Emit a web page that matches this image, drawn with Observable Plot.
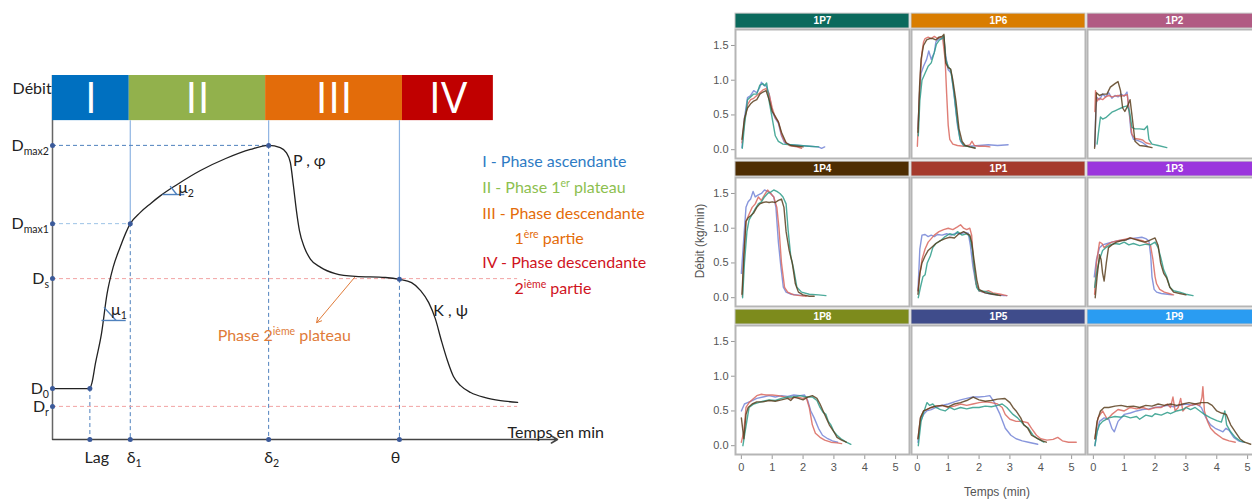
<!DOCTYPE html>
<html>
<head>
<meta charset="utf-8">
<script src="https://cdn.jsdelivr.net/npm/d3@7"></script>
<script src="https://cdn.jsdelivr.net/npm/@observablehq/plot@0.6"></script>
<style>
  html, body { margin: 0; padding: 0; background: #fff; overflow: hidden; width: 1252px; height: 499px; }
  #left { position: absolute; left: 0; top: 0; }
  #right { position: absolute; left: 690px; top: 0; width: 562px; height: 499px; overflow: hidden; }
  .lbl { position: absolute; font-family: "Liberation Sans", Arial, sans-serif; font-size: 12px; color: #555; white-space: nowrap; }
</style>
</head>
<body>
<div id="left"></div>
<div id="right"></div>
<div class="lbl" id="ylab" style="left:700px; top:241px; transform: translate(-50%,-50%) rotate(-90deg);">Débit (kg/min)</div>
<div class="lbl" id="xlab" style="left:997px; top:492px; transform: translate(-50%,-50%);">Temps (min)</div>
<script>
// ---------------- LEFT: schematic diagram (relative units 0-100) ----------------
const phaseNames = ["I", "II", "III", "IV"];
const phaseStart = [0, 15.2, 42.2, 69.3];
const phaseEnd = [15.2, 42.2, 69.3, 87.3];
const phaseColors = ["#0070C0", "#92B14C", "#E36C0A", "#C00000"];

const tLabels = ["Lag", "δ_{1}", "δ_{2}", "θ"];
const tValues = [7.4, 15.4, 42.8, 68.7];
const tLevels = [14.0, 59.3, 80.8, 44.0];

const dLabels = ["D_{max2}", "D_{max1}", "D_{s}", "D_{0}", "D_{r}"];
const dValues = [80.8, 59.3, 44.2, 14.0, 9.1];

const curveT = [0, 7.3, 7.8, 8.5, 9.7, 10.8, 12.0, 13.3, 15.4, 17.4, 19.4, 21.4, 24.4, 29.3, 34.3, 39.2, 42.8,
  45.1, 46.3, 47.1, 47.7, 48.3, 48.9, 49.9, 51.1, 53.1, 56.0, 60.0, 65.9, 68.7,
  71.1, 72.9, 74.5, 75.8, 77.0, 78.2, 79.4, 80.8, 82.8, 85.7, 88.7, 92.1];
const curveD = [14.0, 14.0, 15.5, 20.9, 29.1, 40.0, 47.3, 52.5, 59.3, 62.4, 64.8, 67.0, 69.8, 73.9, 77.2, 79.7, 80.8,
  80.2, 78.8, 76.1, 69.8, 62.9, 57.4, 52.7, 49.5, 47.3, 45.6, 44.8, 44.5, 44.0,
  43.1, 40.9, 37.6, 33.2, 27.2, 21.7, 17.3, 14.8, 12.9, 11.5, 10.7, 10.2];

const legendTexts = ["I - Phase ascendante", "II - Phase 1^{er} plateau", "III - Phase descendante", "1^{ère} partie", "IV - Phase descendante", "2^{ième} partie"];
const legendColors = ["#2E7BC4", "#8DC04F", "#E46C0A", "#E46C0A", "#D0141E", "#D0141E"];

// layout constants
const barBottom = 87.6, barTop = 100, guideEnd = 92.1;
const legendX = [85.1, 85.1, 85.1, 91.5, 85.1, 91.5];
const legendY = [76.4, 69.2, 62.1, 55.2, 48.4, 41.5];

const curve = curveT.map((t, i) => ({t, d: curveD[i]}));
const phases = phaseNames.map((n, i) => ({n, x1: phaseStart[i], x2: phaseEnd[i], c: phaseColors[i]}));
const vSolid = tValues.slice(1).map((t, i) => ({x: t, y1: barBottom, y2: tLevels[i + 1]}));
const vDash = tValues.map((t, i) => ({x: t, y1: tLevels[i], y2: 0}));
const hDash = [
  {y: dValues[0], x2: tValues[2], c: "#4F81BD"},
  {y: dValues[1], x2: tValues[1], c: "#9DC3E6"},
  {y: dValues[2], x2: guideEnd, c: "#F2A3A3"},
  {y: dValues[4], x2: guideEnd, c: "#F2A3A3"}
];
const axisDots = dValues.map(d => ({x: 0, y: d}))
  .concat(tValues.map(t => ({x: t, y: 0})))
  .concat(tValues.map((t, i) => ({x: t, y: tLevels[i]})));
const tLabelDx = [7, 4, 3, -4];
const legend = legendTexts.map((s, i) => ({s, x: legendX[i], y: legendY[i], c: legendColors[i]}));

const left = Plot.plot({
  width: 690, height: 499,
  marginLeft: 52, marginRight: 133, marginTop: 75, marginBottom: 60,
  x: {domain: [0, 100], axis: null},
  y: {domain: [0, 100], axis: null},
  style: {fontFamily: "Lato, 'Open Sans', sans-serif", fontSize: "16px", color: "#222", background: "white", maxWidth: "none", overflow: "visible"},
  marks: [
    Plot.text(["Débit"], {x: -7.9, y: 96.4, text: d => d, textAnchor: "start", fill: "#222"}),
    Plot.ruleX([0], {y1: 0, y2: 100, stroke: "#666", strokeWidth: 1.5}),
    Plot.rect(phases, {x1: "x1", x2: "x2", y1: barBottom, y2: barTop, fill: "c"}),
    Plot.text(phases, {x: d => (d.x1 + d.x2) / 2, y: (barBottom + barTop) / 2, text: "n", fill: "white", fontSize: 44, fontWeight: 400, fontFamily: "'Open Sans', Lato, sans-serif", dy: 1}),
    Plot.ruleX(vSolid, {x: "x", y1: "y1", y2: "y2", stroke: "#8EB4E3", strokeWidth: 1.2}),
    Plot.ruleX(vDash, {x: "x", y1: "y1", y2: "y2", stroke: "#4F81BD", strokeWidth: 1, strokeDasharray: "4,3"}),
    Plot.ruleY(hDash, {y: "y", x1: 0, x2: "x2", stroke: "c", strokeWidth: 1, strokeDasharray: "4,3"}),
    Plot.arrow([{x1: 0, y1: 0, x2: 100, y2: 0}], {x1: "x1", y1: "y1", x2: "x2", y2: "y2", stroke: "#444", strokeWidth: 1.5, headLength: 7}),
    Plot.line(curve, {x: "t", y: "d", curve: "monotone-x", stroke: "#222", strokeWidth: 1.3}),
    Plot.link([{x1: 21.8, y1: 67.3, x2: 26.1, y2: 67.3}, {x1: 23.3, y1: 69.6, x2: 24.6, y2: 67.3},
               {x1: 9.7, y1: 32.7, x2: 14.5, y2: 32.7}, {x1: 10.2, y1: 36.3, x2: 12.6, y2: 32.7}],
      {x1: "x1", y1: "y1", x2: "x2", y2: "y2", stroke: "#4F81BD", strokeWidth: 1.4}),
    Plot.dot(axisDots, {x: "x", y: "y", r: 2.5, fill: "#3B5A9A"}),
    Plot.text(dLabels, {x: -0.7, y: (d, i) => dValues[i], text: d => d, textAnchor: "end", fill: "#222"}),
    Plot.text(tLabels, {x: (d, i) => tValues[i] + tLabelDx[i] * 100 / 505, y: -5.0, text: d => d, fill: "#222"}),
    Plot.text(["Temps en min"], {x: 90.1, y: 1.9, text: d => d, textAnchor: "start", fill: "#222"}),
    Plot.text(["P , φ"], {x: 47.6, y: 76.6, text: d => d, textAnchor: "start", fill: "#222"}),
    Plot.text(["K , ψ"], {x: 75.4, y: 35.4, text: d => d, textAnchor: "start", fill: "#222"}),
    Plot.text(["μ_{2}"], {x: 24.9, y: 69.2, text: d => d, textAnchor: "start", fill: "#222"}),
    Plot.text(["μ_{1}"], {x: 11.6, y: 35.6, text: d => d, textAnchor: "start", fill: "#222"}),
    Plot.arrow([{x1: 59.8, y1: 44.5, x2: 52.3, y2: 32.1}], {x1: "x1", y1: "y1", x2: "x2", y2: "y2", stroke: "#E07B39", strokeWidth: 1, headLength: 8}),
    Plot.text(["Phase 2^{ième} plateau"], {x: 32.7, y: 28.6, text: d => d, textAnchor: "start", fill: "#E07B39"}),
    Plot.text(legend, {x: "x", y: "y", text: "s", fill: "c", textAnchor: "start"})
  ]
});

function richText(svg) {
  svg.querySelectorAll("text").forEach(t => {
    const s = t.textContent;
    if (!/[_^]\{/.test(s)) return;
    while (t.firstChild) t.removeChild(t.firstChild);
    const re = /([_^])\{([^}]*)\}/g;
    let last = 0, m, shift = 0;
    const ns = "http://www.w3.org/2000/svg";
    const add = (txt, kind) => {
      if (!txt) return;
      const sp = document.createElementNS(ns, "tspan");
      sp.textContent = txt;
      let target = kind === "sub" ? 4 : kind === "sup" ? -6 : 0;
      if (target !== shift) { sp.setAttribute("dy", (target - shift) + "px"); shift = target; }
      if (kind) sp.setAttribute("font-size", "66%");
      t.appendChild(sp);
    };
    while ((m = re.exec(s))) {
      add(s.slice(last, m.index), null);
      add(m[2], m[1] === "_" ? "sub" : "sup");
      last = re.lastIndex;
    }
    add(s.slice(last), null);
  });
}
richText(left);
document.getElementById("left").appendChild(left);

// ---------------- RIGHT: faceted flow curves ----------------
const products = ["1P7", "1P6", "1P2", "1P4", "1P1", "1P3", "1P8", "1P5", "1P9"];
const headerColors = ["#0B6A5D", "#D97D00", "#B15B83", "#4E2D02", "#A53A2C", "#9B36DD", "#7D8B1C", "#3F4C8B", "#2A9CF2"];
const runNames = ["A", "B", "C", "D"];
const runColors = ["#7384D6", "#D9675E", "#2E9C89", "#5A3F1E"];
const yTicks = [0, 0.5, 1.0, 1.5];
const xTicks = [0, 1, 2, 3, 4, 5];

// [temps (min), débit (kg/min)] per run: A blue, B red, C teal, D brown
const p7A = [[0.02,0.03],[0.1,0.45],[0.2,0.75],[0.3,0.78],[0.4,0.85],[0.5,0.82],[0.6,0.9],[0.65,0.97],[0.72,0.93],[0.8,0.92],[0.9,0.8],[1.0,0.55],[1.1,0.45],[1.2,0.38],[1.3,0.2],[1.4,0.1],[1.6,0.07],[1.9,0.06],[2.2,0.05],[2.5,0.04],[2.6,0.02],[2.7,0.04]];
const p7B = [[0.02,0.1],[0.1,0.4],[0.2,0.65],[0.3,0.72],[0.4,0.74],[0.5,0.78],[0.6,0.82],[0.7,0.86],[0.8,0.88],[0.9,0.8],[1.0,0.6],[1.1,0.46],[1.2,0.4],[1.3,0.22],[1.4,0.12],[1.55,0.06],[1.8,0.04],[1.95,0.02]];
const p7C = [[0.03,0.02],[0.1,0.35],[0.2,0.72],[0.3,0.76],[0.4,0.8],[0.5,0.8],[0.6,0.93],[0.7,0.95],[0.75,0.92],[0.82,0.96],[0.9,0.7],[1.0,0.45],[1.1,0.2],[1.2,0.12],[1.35,0.08],[1.6,0.07],[1.9,0.06],[2.2,0.05],[2.5,0.04]];
const p7D = [[0.02,0.15],[0.1,0.45],[0.2,0.6],[0.3,0.66],[0.4,0.7],[0.5,0.72],[0.6,0.8],[0.7,0.83],[0.8,0.85],[0.9,0.72],[1.0,0.55],[1.1,0.48],[1.2,0.4],[1.3,0.25],[1.45,0.1],[1.6,0.06],[1.8,0.05],[2.0,0.04]];

const p6A = [[0.02,0.3],[0.07,0.8],[0.12,1.1],[0.2,1.2],[0.3,1.3],[0.37,1.42],[0.45,1.3],[0.55,1.4],[0.6,1.55],[0.7,1.6],[0.8,1.6],[0.85,1.62],[0.92,1.35],[1.0,1.15],[1.1,1.1],[1.2,0.75],[1.3,0.35],[1.4,0.12],[1.5,0.06],[1.7,0.05],[2.0,0.06],[2.3,0.07],[2.6,0.06],[2.94,0.07]];
const p6B = [[0.0,0.05],[0.05,0.6],[0.1,1.1],[0.15,1.4],[0.2,1.55],[0.25,1.6],[0.35,1.62],[0.45,1.6],[0.55,1.63],[0.65,1.6],[0.75,1.62],[0.82,1.6],[0.9,1.3],[0.95,0.8],[1.0,0.35],[1.05,0.15],[1.15,0.08],[1.3,0.06],[1.5,0.05],[1.7,0.07],[1.77,0.12],[1.85,0.06],[2.0,0.05],[2.2,0.05],[2.35,0.04]];
const p6C = [[0.03,0.2],[0.08,0.7],[0.15,1.0],[0.25,1.1],[0.35,1.2],[0.45,1.25],[0.55,1.4],[0.62,1.52],[0.72,1.58],[0.8,1.6],[0.86,1.64],[0.92,1.3],[1.0,1.2],[1.08,1.15],[1.18,0.85],[1.28,0.45],[1.38,0.15],[1.5,0.06],[1.7,0.04],[1.87,0.03]];
const p6D = [[0.02,0.25],[0.07,0.9],[0.12,1.3],[0.2,1.5],[0.3,1.58],[0.4,1.6],[0.5,1.6],[0.6,1.58],[0.7,1.62],[0.8,1.63],[0.86,1.66],[0.92,1.25],[1.0,1.18],[1.08,1.16],[1.15,1.0],[1.25,0.7],[1.35,0.3],[1.45,0.12],[1.55,0.06],[1.7,0.04],[1.87,0.02]];

const p2A = [[0.05,0.05],[0.08,0.6],[0.12,0.75],[0.2,0.72],[0.3,0.8],[0.4,0.76],[0.5,0.82],[0.6,0.74],[0.7,0.78],[0.8,0.76],[0.9,0.8],[1.0,0.77],[1.09,0.83],[1.15,0.6],[1.22,0.25],[1.3,0.15],[1.45,0.13],[1.6,0.1],[1.75,0.05]];
const p2B = [[0.05,0.55],[0.07,0.85],[0.12,0.7],[0.2,0.74],[0.3,0.72],[0.4,0.76],[0.5,0.78],[0.6,0.76],[0.7,0.77],[0.8,0.78],[0.9,0.77],[1.0,0.78],[1.1,0.79],[1.16,0.55],[1.25,0.22],[1.35,0.16],[1.5,0.15],[1.6,0.14],[1.7,0.1],[1.85,0.08]];
const p2C = [[0.12,0.08],[0.18,0.3],[0.23,0.47],[0.3,0.44],[0.4,0.46],[0.5,0.5],[0.6,0.54],[0.7,0.56],[0.8,0.58],[0.9,0.6],[1.0,0.62],[1.1,0.63],[1.17,0.55],[1.25,0.32],[1.35,0.3],[1.5,0.3],[1.65,0.29],[1.75,0.34],[1.8,0.15],[1.9,0.08],[2.1,0.06],[2.38,0.03]];
const p2D = [[0.04,0.02],[0.08,0.5],[0.1,0.82],[0.2,0.78],[0.3,0.8],[0.44,0.8],[0.55,0.9],[0.7,0.95],[0.8,0.98],[0.88,0.85],[0.95,0.6],[1.02,0.55],[1.1,0.62],[1.19,0.72],[1.25,0.5],[1.35,0.12],[1.5,0.06],[1.7,0.05],[1.9,0.03]];

const p4A = [[0.0,0.35],[0.07,0.8],[0.15,1.3],[0.22,1.38],[0.3,1.42],[0.38,1.53],[0.45,1.45],[0.55,1.48],[0.65,1.5],[0.75,1.55],[0.85,1.53],[0.95,1.5],[1.05,1.45],[1.12,1.3],[1.2,0.8],[1.28,0.45],[1.36,0.15],[1.45,0.08],[1.6,0.05],[1.8,0.04],[2.0,0.03]];
const p4B = [[0.03,0.02],[0.08,0.6],[0.15,1.1],[0.25,1.2],[0.35,1.3],[0.45,1.35],[0.55,1.45],[0.65,1.4],[0.75,1.48],[0.85,1.55],[0.95,1.5],[1.05,1.45],[1.15,1.3],[1.22,1.0],[1.3,0.5],[1.4,0.15],[1.5,0.08],[1.7,0.04],[1.9,0.03],[2.1,0.02]];
const p4C = [[0.04,0.0],[0.1,0.5],[0.18,0.95],[0.25,1.12],[0.35,1.2],[0.45,1.28],[0.55,1.35],[0.65,1.38],[0.75,1.45],[0.85,1.5],[0.95,1.52],[1.05,1.55],[1.15,1.53],[1.25,1.5],[1.35,1.45],[1.45,1.35],[1.52,0.95],[1.6,0.6],[1.7,0.4],[1.8,0.15],[1.95,0.08],[2.2,0.05],[2.5,0.04],[2.74,0.03]];
const p4D = [[0.02,0.05],[0.08,0.6],[0.15,1.1],[0.22,1.15],[0.3,1.18],[0.4,1.22],[0.5,1.3],[0.6,1.35],[0.7,1.37],[0.8,1.38],[0.9,1.37],[1.0,1.38],[1.1,1.37],[1.2,1.4],[1.3,1.42],[1.38,1.3],[1.45,0.95],[1.55,0.68],[1.65,0.5],[1.75,0.2],[1.85,0.08],[2.0,0.04],[2.2,0.02],[2.36,0.02]];

const p1A = [[0.02,0.1],[0.08,0.7],[0.15,0.9],[0.25,0.91],[0.35,0.88],[0.45,0.9],[0.55,0.88],[0.65,0.91],[0.8,0.9],[0.95,0.92],[1.1,0.9],[1.25,0.93],[1.4,0.92],[1.55,0.94],[1.65,0.93],[1.72,0.75],[1.8,0.45],[1.9,0.2],[2.0,0.1],[2.2,0.07],[2.4,0.05],[2.6,0.04],[2.8,0.03],[2.9,0.03]];
const p1B = [[0.02,0.1],[0.07,0.3],[0.15,0.55],[0.25,0.7],[0.35,0.8],[0.45,0.85],[0.55,0.9],[0.7,0.95],[0.85,0.98],[1.0,1.0],[1.15,0.98],[1.3,1.02],[1.4,1.05],[1.5,1.0],[1.6,0.98],[1.7,1.0],[1.76,0.9],[1.82,0.5],[1.9,0.2],[2.0,0.1],[2.15,0.08],[2.3,0.1],[2.45,0.07],[2.7,0.05],[2.9,0.03]];
const p1C = [[0.03,0.0],[0.1,0.15],[0.18,0.3],[0.25,0.33],[0.32,0.5],[0.42,0.6],[0.5,0.72],[0.6,0.78],[0.75,0.82],[0.9,0.88],[1.05,0.92],[1.2,0.9],[1.3,0.95],[1.45,0.9],[1.6,0.92],[1.7,0.88],[1.78,0.7],[1.85,0.4],[1.92,0.15],[2.0,0.1],[2.2,0.09],[2.4,0.06],[2.6,0.04]];
const p1D = [[0.02,0.05],[0.08,0.35],[0.15,0.5],[0.25,0.6],[0.35,0.68],[0.45,0.72],[0.6,0.78],[0.75,0.82],[0.9,0.85],[1.05,0.87],[1.2,0.86],[1.35,0.92],[1.5,0.95],[1.62,0.92],[1.7,0.9],[1.76,0.8],[1.85,0.5],[1.93,0.25],[2.0,0.12],[2.2,0.07],[2.45,0.05],[2.7,0.03]];

const p3A = [[0.03,0.3],[0.1,0.55],[0.2,0.72],[0.3,0.76],[0.45,0.78],[0.6,0.8],[0.8,0.82],[1.0,0.83],[1.2,0.85],[1.4,0.86],[1.57,0.87],[1.7,0.85],[1.8,0.82],[1.86,0.6],[1.9,0.3],[1.97,0.12],[2.05,0.08],[2.2,0.06],[2.4,0.05],[2.55,0.04]];
const p3B = [[0.04,0.05],[0.1,0.5],[0.2,0.8],[0.28,0.78],[0.35,0.72],[0.45,0.76],[0.6,0.8],[0.8,0.82],[1.0,0.84],[1.2,0.86],[1.4,0.84],[1.6,0.82],[1.75,0.78],[1.85,0.76],[1.93,0.55],[2.0,0.3],[2.05,0.2],[2.15,0.12],[2.3,0.08],[2.45,0.06],[2.6,0.04]];
const p3C = [[0.04,0.15],[0.12,0.4],[0.2,0.55],[0.3,0.68],[0.4,0.72],[0.55,0.76],[0.7,0.78],[0.85,0.77],[1.0,0.8],[1.15,0.76],[1.3,0.78],[1.5,0.75],[1.7,0.77],[1.85,0.76],[2.0,0.8],[2.1,0.72],[2.2,0.55],[2.28,0.4],[2.38,0.3],[2.48,0.15],[2.6,0.1],[2.8,0.08],[3.0,0.05],[3.23,0.03]];
const p3D = [[0.06,0.0],[0.12,0.3],[0.2,0.62],[0.25,0.55],[0.3,0.35],[0.35,0.24],[0.42,0.5],[0.49,0.72],[0.6,0.76],[0.75,0.8],[0.9,0.82],[1.05,0.83],[1.19,0.86],[1.35,0.84],[1.5,0.82],[1.65,0.8],[1.8,0.82],[2.0,0.86],[2.1,0.75],[2.18,0.5],[2.28,0.35],[2.38,0.28],[2.48,0.15],[2.6,0.08],[2.8,0.06],[3.0,0.04]];

const p8A = [[0.0,0.5],[0.1,0.6],[0.2,0.62],[0.35,0.65],[0.5,0.68],[0.7,0.7],[0.9,0.72],[1.1,0.7],[1.3,0.72],[1.5,0.71],[1.7,0.73],[1.9,0.72],[2.05,0.73],[2.15,0.65],[2.25,0.5],[2.36,0.4],[2.5,0.25],[2.63,0.15],[2.8,0.1],[2.95,0.07],[3.12,0.05]];
const p8B = [[0.0,0.05],[0.08,0.2],[0.15,0.55],[0.25,0.62],[0.35,0.66],[0.5,0.72],[0.65,0.74],[0.8,0.73],[1.0,0.73],[1.2,0.72],[1.4,0.7],[1.6,0.68],[1.8,0.7],[2.0,0.68],[2.1,0.7],[2.2,0.55],[2.3,0.3],[2.4,0.18],[2.55,0.12],[2.7,0.08],[2.9,0.05],[3.1,0.04],[3.25,0.03]];
const p8C = [[0.05,0.0],[0.12,0.2],[0.25,0.55],[0.4,0.6],[0.55,0.62],[0.7,0.64],[0.9,0.66],[1.1,0.65],[1.3,0.68],[1.5,0.7],[1.7,0.7],[1.9,0.72],[2.1,0.7],[2.3,0.7],[2.45,0.65],[2.55,0.55],[2.65,0.48],[2.74,0.45],[2.82,0.35],[2.9,0.3],[3.0,0.2],[3.1,0.15],[3.23,0.1],[3.4,0.05],[3.55,0.02]];
const p8D = [[0.0,0.4],[0.08,0.1],[0.15,0.45],[0.22,0.55],[0.35,0.6],[0.5,0.63],[0.7,0.63],[0.9,0.65],[1.1,0.64],[1.3,0.66],[1.5,0.68],[1.6,0.65],[1.7,0.7],[1.85,0.68],[2.0,0.66],[2.15,0.7],[2.3,0.72],[2.45,0.68],[2.55,0.6],[2.65,0.5],[2.75,0.4],[2.85,0.3],[3.0,0.2],[3.1,0.12],[3.25,0.08],[3.4,0.05]];

const p5A = [[0.02,0.05],[0.1,0.35],[0.2,0.45],[0.3,0.5],[0.45,0.52],[0.6,0.55],[0.8,0.58],[1.0,0.6],[1.2,0.63],[1.4,0.66],[1.6,0.68],[1.8,0.7],[2.0,0.7],[2.2,0.71],[2.35,0.72],[2.5,0.62],[2.68,0.45],[2.85,0.25],[3.03,0.15],[3.2,0.1],[3.4,0.07],[3.6,0.05],[3.9,0.02]];
const p5B = [[0.02,0.1],[0.1,0.4],[0.2,0.5],[0.3,0.52],[0.45,0.55],[0.6,0.57],[0.8,0.58],[1.0,0.55],[1.2,0.57],[1.4,0.6],[1.6,0.58],[1.8,0.6],[2.0,0.62],[2.2,0.63],[2.4,0.62],[2.6,0.6],[2.75,0.55],[2.85,0.45],[3.0,0.38],[3.2,0.35],[3.4,0.35],[3.58,0.33],[3.7,0.25],[3.86,0.15],[4.0,0.1],[4.2,0.08],[4.4,0.09],[4.55,0.12],[4.7,0.07],[4.9,0.05],[5.15,0.05]];
const p5C = [[0.03,0.0],[0.12,0.35],[0.22,0.5],[0.31,0.62],[0.4,0.58],[0.5,0.6],[0.6,0.55],[0.75,0.52],[0.9,0.5],[1.05,0.55],[1.2,0.52],[1.4,0.55],[1.6,0.53],[1.8,0.55],[2.0,0.55],[2.2,0.57],[2.4,0.56],[2.6,0.58],[2.75,0.6],[2.9,0.55],[3.1,0.45],[3.25,0.4],[3.45,0.3],[3.6,0.25],[3.75,0.15],[3.9,0.1],[4.1,0.05]];
const p5D = [[0.02,0.1],[0.1,0.4],[0.2,0.5],[0.3,0.52],[0.45,0.55],[0.6,0.57],[0.8,0.58],[1.0,0.56],[1.2,0.6],[1.4,0.62],[1.6,0.65],[1.81,0.7],[2.0,0.66],[2.2,0.64],[2.4,0.65],[2.6,0.67],[2.84,0.68],[3.0,0.62],[3.1,0.55],[3.2,0.5],[3.35,0.4],[3.45,0.3],[3.58,0.25],[3.7,0.15],[3.9,0.1],[4.05,0.07],[4.18,0.05]];

const p9A = [[0.05,0.0],[0.12,0.2],[0.2,0.35],[0.35,0.4],[0.5,0.38],[0.6,0.25],[0.68,0.2],[0.8,0.35],[1.0,0.45],[1.2,0.47],[1.4,0.5],[1.6,0.52],[1.8,0.53],[2.0,0.55],[2.2,0.56],[2.4,0.58],[2.6,0.56],[2.8,0.58],[3.0,0.6],[3.2,0.58],[3.35,0.6],[3.5,0.55],[3.65,0.4],[3.8,0.3],[3.95,0.25],[4.1,0.22],[4.2,0.2],[4.3,0.25],[4.4,0.22],[4.55,0.12],[4.7,0.07],[4.85,0.05]];
const p9B = [[0.05,0.1],[0.15,0.4],[0.3,0.5],[0.45,0.38],[0.6,0.45],[0.8,0.52],[1.0,0.5],[1.2,0.55],[1.4,0.53],[1.6,0.55],[1.8,0.52],[2.0,0.55],[2.2,0.55],[2.4,0.6],[2.5,0.55],[2.58,0.7],[2.65,0.5],[2.75,0.55],[2.83,0.68],[2.9,0.5],[3.0,0.55],[3.15,0.58],[3.3,0.6],[3.45,0.58],[3.52,0.7],[3.55,0.85],[3.6,0.5],[3.7,0.35],[3.8,0.25],[3.95,0.18],[4.2,0.1],[4.4,0.07],[4.6,0.05]];
const p9C = [[0.05,0.0],[0.12,0.2],[0.2,0.3],[0.3,0.35],[0.5,0.4],[0.7,0.42],[0.9,0.41],[1.0,0.43],[1.2,0.4],[1.4,0.42],[1.5,0.38],[1.7,0.44],[1.9,0.42],[2.0,0.46],[2.2,0.44],[2.4,0.48],[2.5,0.46],[2.7,0.5],[2.9,0.52],[3.0,0.55],[3.15,0.52],[3.3,0.55],[3.45,0.5],[3.6,0.45],[3.8,0.4],[4.0,0.36],[4.15,0.34],[4.26,0.5],[4.32,0.3],[4.45,0.2],[4.6,0.12],[4.75,0.07],[4.9,0.05]];
const p9D = [[0.05,0.1],[0.12,0.35],[0.23,0.5],[0.35,0.55],[0.5,0.55],[0.7,0.57],[0.9,0.58],[1.1,0.56],[1.3,0.57],[1.5,0.55],[1.7,0.58],[1.9,0.57],[2.1,0.6],[2.3,0.58],[2.5,0.6],[2.7,0.58],[2.9,0.6],[3.1,0.62],[3.3,0.6],[3.5,0.62],[3.7,0.62],[3.85,0.58],[4.0,0.5],[4.15,0.47],[4.31,0.45],[4.45,0.3],[4.6,0.2],[4.75,0.1],[4.9,0.05],[5.1,0.02]];

const runsByProduct = [
  [p7A, p7B, p7C, p7D], [p6A, p6B, p6C, p6D], [p2A, p2B, p2C, p2D],
  [p4A, p4B, p4C, p4D], [p1A, p1B, p1C, p1D], [p3A, p3B, p3C, p3D],
  [p8A, p8B, p8C, p8D], [p5A, p5B, p5C, p5D], [p9A, p9B, p9C, p9D]
];

const rows = [];
products.forEach((p, i) => {
  runsByProduct[i].forEach((pts, r) => {
    pts.forEach(([t, v]) => rows.push({product: p, col: i % 3, row: Math.floor(i / 3), run: runNames[r], t, v}));
  });
});
const headers = products.map((p, i) => ({product: p, col: i % 3, row: Math.floor(i / 3), color: headerColors[i]}));

const xDom = [-0.19, 5.45], yDom = [-0.127, 1.73];
const pxY = (yDom[1] - yDom[0]) / 130;

const right = Plot.plot({
  width: 575, height: 499,
  marginLeft: 44, marginRight: 2, marginTop: 28, marginBottom: 44,
  style: {fontFamily: "'Liberation Sans', Arial, sans-serif", fontSize: "11px", color: "#555", background: "white", maxWidth: "none", overflow: "visible"},
  fx: {domain: [0, 1, 2], paddingInner: 0.011, paddingOuter: 0, axis: null},
  fy: {domain: [0, 1, 2], paddingInner: 0.1275, paddingOuter: 0, axis: null},
  x: {domain: xDom},
  y: {domain: yDom},
  color: {domain: runNames, range: runColors},
  marks: [
    Plot.axisY({ticks: yTicks, tickFormat: d => d.toFixed(1), tickSize: 4, tickPadding: 3, label: null, stroke: "#999", fill: "#555"}),
    Plot.axisX({ticks: xTicks, tickFormat: d => String(d), tickSize: 5, tickPadding: 4, label: null, stroke: "#999", fill: "#555"}),
    Plot.line(rows, {x: "t", y: "v", z: "run", stroke: "run", fx: "col", fy: "row", strokeWidth: 1.4, strokeOpacity: 0.85}),
    Plot.frame({stroke: "#b5b5b5", strokeWidth: 2}),
    Plot.rect(headers, {fx: "col", fy: "row", x1: () => xDom[0], x2: () => xDom[1], y1: () => yDom[1] + 1 * pxY, y2: () => yDom[1] + 16 * pxY, fill: "color", stroke: "#c4c4c4", strokeWidth: 1}),
    Plot.text(headers, {fx: "col", fy: "row", x: () => (xDom[0] + xDom[1]) / 2, y: () => yDom[1] + 8.5 * pxY, text: "product", fill: "white", fontWeight: "bold", fontSize: 10})
  ]
});
document.getElementById("right").appendChild(right);
</script>
</body>
</html>
